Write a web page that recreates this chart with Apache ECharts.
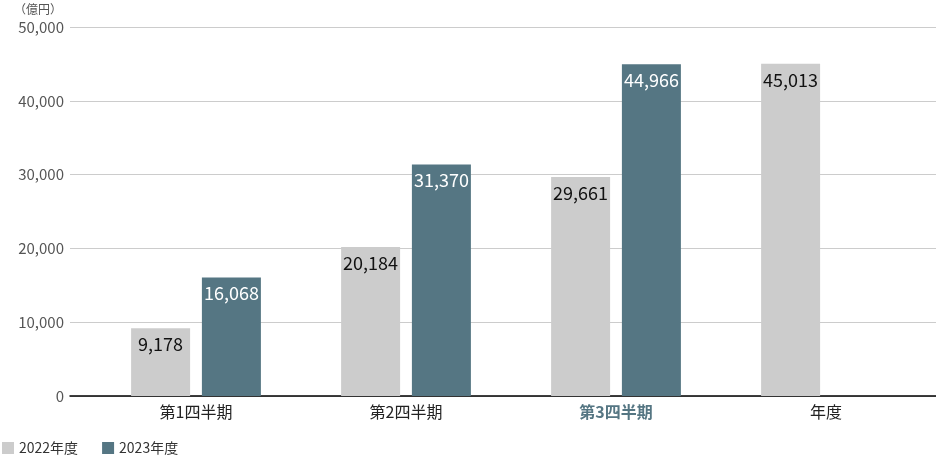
<!DOCTYPE html>
<html><head><meta charset="utf-8">
<script src="https://cdn.jsdelivr.net/npm/echarts@6/dist/echarts.min.js"></script>
<style>html,body{margin:0;padding:0;background:#fff}#c{width:936px;height:456px}</style>
</head><body><div id="c"></div>
<script>
const categories = ['第1四半期','第2四半期','第3四半期','年度'];
const highlightCategory = '第3四半期';
const series2022 = [9178, 20184, 29661, 45013];
const series2023 = [16068, 31370, 44966, null];
const seriesNames = ['2022年度','2023年度'];
const yTicks = [0, 10000, 20000, 30000, 40000, 50000];
const unitLabel = '（億円）';

const FONT = '"Noto Sans CJK JP", "Noto Sans", sans-serif';
const C22 = '#cccccc', C23 = '#557683';
const fmt = v => Number(v).toLocaleString('en-US');

const chart = echarts.init(document.getElementById('c'), null, {renderer:'canvas'});
chart.setOption({
  animation:false,
  textStyle:{fontFamily:FONT},
  legend:{
    left:2, top:441, padding:0, itemWidth:12, itemHeight:12, itemGap:24, icon:'rect',
    textStyle:{fontSize:14, color:'#333', fontFamily:FONT},
    data:seriesNames
  },
  grid:[
    {left:70, right:0, top:27, bottom:60},
    {left:91, right:5, top:27, bottom:60}
  ],
  xAxis:[
    {gridIndex:0, type:'category', data:[''], axisLine:{lineStyle:{color:'#000', width:1.5}}, axisTick:{show:false}, axisLabel:{show:false}},
    {gridIndex:1, type:'category', data:categories.map(c => c === highlightCategory ? {value:c, textStyle:{color:C23, fontWeight:'bold'}} : c),
      axisLine:{show:false}, axisTick:{show:false},
      axisLabel:{margin:8, fontSize:16, color:'#222', fontFamily:FONT}}
  ],
  yAxis:[
    {gridIndex:0, type:'value', min:yTicks[0], max:yTicks[yTicks.length-1], interval:yTicks[1]-yTicks[0],
      name:unitLabel, nameLocation:'end', nameGap:12,
      nameTextStyle:{align:'right', fontSize:12, color:'#555', padding:[0,8,0,0], fontFamily:FONT},
      axisLine:{show:false}, axisTick:{show:false},
      axisLabel:{formatter:fmt, fontSize:15, color:'#555', margin:6, fontFamily:FONT},
      splitLine:{lineStyle:{color:'#cccccc', width:1}}},
    {gridIndex:1, type:'value', min:yTicks[0], max:yTicks[yTicks.length-1], show:false, splitLine:{show:false}}
  ],
  series:[
    {name:seriesNames[0], type:'bar', xAxisIndex:1, yAxisIndex:1, data:series2022, barWidth:59, barGap:'20%',
      itemStyle:{color:C22},
      label:{show:true, position:'insideTop', distance:7, formatter:p => fmt(p.value), color:'#111', fontSize:18, fontFamily:FONT}},
    {name:seriesNames[1], type:'bar', xAxisIndex:1, yAxisIndex:1, data:series2023, barWidth:59, barGap:'20%',
      itemStyle:{color:C23},
      label:{show:true, position:'insideTop', distance:7, formatter:p => p.value == null ? '' : fmt(p.value), color:'#fff', fontSize:18, fontFamily:FONT}}
  ]
});
</script></body></html>
